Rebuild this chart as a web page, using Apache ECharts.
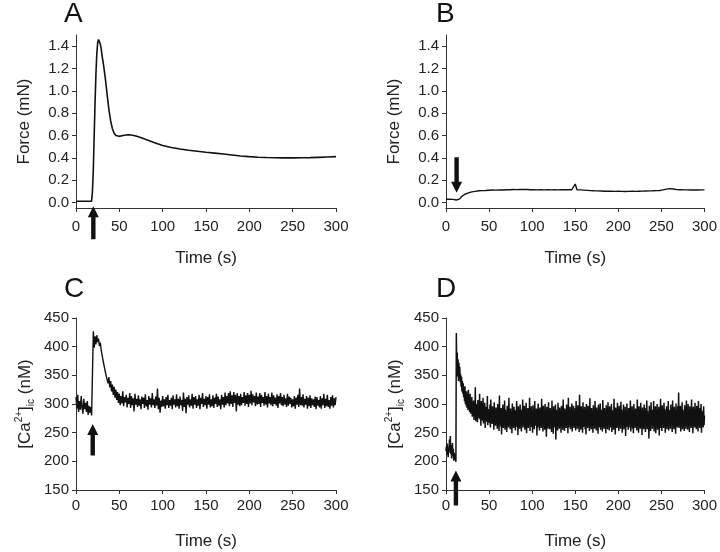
<!DOCTYPE html>
<html>
<head>
<meta charset="utf-8">
<script src="https://cdn.jsdelivr.net/npm/echarts@6/dist/echarts.min.js"></script>
<style>html,body{margin:0;padding:0;background:#fff}#c{width:720px;height:552px}</style>
</head>
<body>
<div id="c"></div>
<script>
// ---- Data ----
var xTicks = [0, 50, 100, 150, 200, 250, 300];
var forceTicks = [0, 0.2, 0.4, 0.6, 0.8, 1.0, 1.2, 1.4];
var caTicks = [150, 200, 250, 300, 350, 400, 450];
var panelLetters = ['A', 'B', 'C', 'D'];

// Panel A: force (mN) vs time (s)
var A_time = [0,5,10,15,18,19,20,21,22,23,24,25,26,27,28,29,30,31,32,34,36,38,40,42,44,46,48,50,53,56,60,64,68,72,76,80,90,100,110,120,130,140,150,160,170,180,190,200,210,220,230,240,250,260,270,280,290,300];
var A_force = [0.01,0.01,0.01,0.01,0.012,0.1,0.3,0.6,0.9,1.15,1.33,1.43,1.46,1.45,1.42,1.38,1.32,1.27,1.22,1.10,0.96,0.83,0.73,0.66,0.62,0.60,0.593,0.592,0.597,0.602,0.606,0.604,0.598,0.588,0.577,0.565,0.537,0.51,0.492,0.478,0.467,0.458,0.449,0.442,0.434,0.425,0.416,0.41,0.405,0.402,0.400,0.399,0.399,0.400,0.401,0.404,0.407,0.41];

// Panel B: force (mN), sampled every 2 s
var B_dt = 2;
var B_force = [0.028,0.027,0.029,0.026,0.027,0.025,0.022,0.018,0.032,0.052,0.064,0.073,0.080,0.085,0.089,0.094,0.096,0.099,0.101,0.104,
0.101,0.106,0.103,0.107,0.105,0.109,0.106,0.111,0.107,0.110,0.108,0.112,0.109,0.111,0.110,0.113,0.110,0.114,0.112,0.116,
0.113,0.115,0.112,0.116,0.113,0.117,0.114,0.116,0.121,0.114,0.117,0.113,0.116,0.112,0.115,0.113,0.117,0.112,0.115,0.113,
0.116,0.112,0.115,0.113,0.116,0.112,0.115,0.113,0.116,0.114,0.117,0.113,0.116,0.114,0.117,0.165,0.113,0.116,0.112,0.114,
0.110,0.112,0.108,0.110,0.106,0.108,0.104,0.106,0.103,0.105,0.102,0.104,0.100,0.103,0.101,0.104,0.100,0.102,0.099,0.102,
0.100,0.103,0.099,0.101,0.098,0.101,0.099,0.102,0.100,0.103,0.099,0.101,0.100,0.103,0.101,0.104,0.102,0.105,0.103,0.106,
0.104,0.107,0.106,0.108,0.107,0.110,0.112,0.116,0.119,0.122,0.124,0.122,0.120,0.117,0.115,0.112,0.114,0.110,0.112,0.109,
0.112,0.108,0.111,0.109,0.112,0.108,0.111,0.109,0.112,0.110,0.112];

// Panel C: [Ca2+]ic (nM), sampled every 1 s
var C_dt = 1;
var C_ca = [312,292,316,286,305,290,314,294,283,309,291,302,286,305,281,297,285,295,280,278,
427,398,418,404,420,408,414,401,407,395,392,378,377,362,363,348,350,336,347,329,
340,322,334,316,330,311,325,307,321,302,318,298,314,301,322,296,312,303,316,294,
311,300,319,293,314,298,310,287,318,299,309,295,315,297,308,291,313,300,311,293,
317,296,307,290,314,299,310,294,319,298,308,293,313,297,327,291,311,285,306,295,
314,296,308,292,312,298,316,293,307,297,311,291,315,299,308,294,317,296,309,292,
313,298,307,288,320,295,309,284,312,299,315,294,308,297,318,292,312,299,314,293,
308,297,316,291,311,300,319,295,309,298,314,292,312,299,317,294,308,296,315,293,
311,300,318,295,313,297,308,291,316,299,312,294,320,298,314,301,319,296,322,300,
315,295,321,302,316,287,319,299,314,296,318,298,312,302,321,297,315,300,319,295,
316,301,323,298,317,303,314,296,320,299,313,300,319,295,316,302,312,297,321,299,
314,294,318,301,312,298,320,296,315,300,311,297,317,293,314,301,319,298,312,296,
316,299,310,295,318,297,313,300,311,294,308,296,314,292,311,299,316,295,327,298,
312,297,317,294,309,299,314,292,311,296,315,293,310,298,308,295,313,291,312,297,
307,294,314,292,310,298,318,293,309,296,316,295,307,292,312,297,315,294,310,298,312];

// Panel D: [Ca2+]ic (nM), sampled every 0.5 s
var D_dt = 0.5;
var D_ca = [218,226,212,231,220,207,224,215,238,221,244,213,228,205,219,232,209,222,201,215,
214,203,208,199,424,362,390,348,378,340,372,345,365,338,352,330,348,322,340,318,
336,312,328,305,331,300,318,296,322,293,314,289,325,292,309,286,318,283,305,295,
312,278,298,285,306,272,295,281,329,270,300,284,292,268,307,279,296,275,318,273,
297,262,305,276,290,271,311,266,288,279,302,258,295,274,287,269,314,263,291,277,
285,267,299,259,308,272,283,265,296,270,289,255,303,268,281,262,294,276,286,257,
300,266,281,253,315,270,288,261,293,247,284,272,299,258,277,266,306,255,290,270,
282,251,297,264,286,259,311,268,279,256,292,263,287,249,301,271,280,258,295,262,
289,254,283,268,305,260,278,246,296,265,285,257,299,270,281,252,290,263,308,259,
284,266,297,255,279,261,302,249,288,270,293,258,281,264,311,253,287,267,296,260,
283,250,298,268,285,256,305,262,280,271,292,245,289,259,301,266,278,254,294,263,
286,258,309,264,282,252,297,269,287,255,300,261,279,243,295,267,284,257,303,262,
280,256,293,270,288,251,306,260,283,248,296,265,281,259,299,238,290,263,285,254,
302,266,279,257,294,261,288,250,297,268,283,255,308,262,286,253,292,265,280,258,
299,264,287,249,311,259,283,267,295,256,289,262,301,252,285,270,297,258,282,263,
293,254,305,266,284,257,298,261,288,251,316,264,282,255,296,268,286,250,303,260,
281,262,295,256,290,247,300,267,284,258,297,263,279,253,310,261,287,256,293,265,
283,250,298,262,289,257,305,266,281,254,294,260,287,248,299,264,284,259,301,255,
290,263,282,252,307,260,286,257,293,266,280,249,298,261,288,256,303,263,283,254,
296,259,285,267,300,251,289,262,282,255,309,264,287,247,294,261,280,258,302,265,
286,253,297,262,283,257,304,266,290,250,285,263,299,256,281,261,295,244,288,260,
301,264,284,255,293,259,287,268,306,252,282,263,296,257,289,249,300,265,284,258,
292,261,283,254,308,263,287,250,296,266,280,257,302,262,289,246,294,260,285,256,
299,265,282,251,293,262,306,256,288,264,281,240,297,259,286,253,303,266,284,257,
290,263,305,252,287,261,296,249,283,267,300,255,289,262,295,245,284,264,309,258,
286,253,298,266,283,258,302,261,291,250,287,264,296,256,282,262,305,254,290,267,
284,257,299,263,288,251,306,265,283,256,295,261,289,248,301,266,285,259,296,262,
320,258,287,264,297,252,284,267,303,256,290,261,282,253,298,266,288,257,306,262,
285,255,300,264,289,251,296,263,284,258,308,262,287,249,295,266,283,259,302,261,
289,256,297,265,284,252,305,263,286,258,293,261,300,250,288,267,284,259,296,263,280];

// Stimulus arrows: [time, tail value, tip value]
var arrowA = [20, -0.33, -0.035];
var arrowB = [12.3, 0.405, 0.087];
var arrowC = [19.3, 210, 265];
var arrowD = [11.5, 123, 184];

// ---- Build ----
function pairs(t, v) { return v.map(function (y, i) { return [t[i], y]; }); }
function sampled(dt, v) { return v.map(function (y, i) { return [i * dt, y]; }); }

var FONT = 'Liberation Sans, Arial, sans-serif';
var INK = '#111';
var AXIS = '#333';

var grids = [
  { left: 76, right: 384, top: 35, bottom: 344 },
  { left: 446, right: 14, top: 35, bottom: 344 },
  { left: 76, right: 384, top: 318, bottom: 62 },
  { left: 446, right: 14, top: 318, bottom: 62 }
];

function xAxisFor(i, margin, gap) {
  return {
    type: 'value', gridIndex: i, min: 0, max: 300, interval: 50,
    name: 'Time (s)', nameLocation: 'middle', nameGap: gap,
    nameTextStyle: { fontFamily: FONT, fontSize: 17, color: '#222' },
    axisLine: { onZero: false, lineStyle: { color: AXIS, width: 1 } },
    axisTick: { show: true, inside: false, length: 4, lineStyle: { color: AXIS } },
    axisLabel: { fontFamily: FONT, fontSize: 15, color: '#222', margin: margin },
    splitLine: { show: false }
  };
}

var caName = '[Ca{sup|2+}]{sub|ic} (nM)';
var caRich = {
  sup: { fontFamily: FONT, fontSize: 10, color: '#222', verticalAlign: 'top', lineHeight: 10 },
  sub: { fontFamily: FONT, fontSize: 10, color: '#222', verticalAlign: 'bottom', lineHeight: 10 }
};

function yForce(i) {
  return {
    type: 'value', gridIndex: i, min: -0.05, max: 1.5,
    name: 'Force (mN)', nameLocation: 'middle', nameGap: 43,
    nameTextStyle: { fontFamily: FONT, fontSize: 17, color: '#222' },
    axisLine: { show: true, onZero: false, lineStyle: { color: AXIS, width: 1 } },
    axisTick: { show: true, length: 4, customValues: forceTicks, lineStyle: { color: AXIS } },
    axisLabel: { fontFamily: FONT, fontSize: 15, color: '#222', margin: 7, customValues: forceTicks,
      formatter: function (v) { return v.toFixed(1); } },
    splitLine: { show: false }
  };
}

function yCa(i) {
  return {
    type: 'value', gridIndex: i, min: 150, max: 450, interval: 50,
    name: caName, nameLocation: 'middle', nameGap: 40,
    nameTextStyle: { fontFamily: FONT, fontSize: 17, color: '#222', lineHeight: 22, rich: caRich },
    axisLine: { show: true, onZero: false, lineStyle: { color: AXIS, width: 1 } },
    axisTick: { show: true, length: 4, lineStyle: { color: AXIS } },
    axisLabel: { fontFamily: FONT, fontSize: 15, color: '#222', margin: 7 },
    splitLine: { show: false }
  };
}

function traceSeries(i, data, width) {
  return {
    type: 'line', xAxisIndex: i, yAxisIndex: i, data: data,
    showSymbol: false, symbol: 'none', silent: true, sampling: null,
    lineStyle: { color: INK, width: width }
  };
}

function arrowSeries(i, arr) {
  return {
    type: 'custom', xAxisIndex: i, yAxisIndex: i, clip: false, silent: true,
    data: [arr],
    encode: { x: 0, y: [1, 2] },
    renderItem: function (params, api) {
      var p0 = api.coord([api.value(0), api.value(1)]);
      var p1 = api.coord([api.value(0), api.value(2)]);
      var dir = p1[1] > p0[1] ? 1 : -1;
      var hl = 11, hw = 5.5, sw = 2.2;
      var by = p1[1] - dir * hl;
      var x = p0[0];
      return {
        type: 'polygon',
        shape: { points: [[x - sw, p0[1]], [x - sw, by], [x - hw, by], [p1[0], p1[1]], [x + hw, by], [x + sw, by], [x + sw, p0[1]]] },
        style: { fill: INK }
      };
    }
  };
}

var titlePos = [[64, 0], [436, 0], [64, 275], [436, 275]];

var option = {
  animation: false,
  backgroundColor: '#fff',
  title: panelLetters.map(function (L, i) {
    return { text: L, left: titlePos[i][0], top: titlePos[i][1], padding: 0,
      textStyle: { fontFamily: FONT, fontSize: 28, fontWeight: 'normal', color: INK } };
  }),
  grid: grids,
  xAxis: [xAxisFor(0, 11, 42), xAxisFor(1, 11, 42), xAxisFor(2, 8, 43), xAxisFor(3, 8, 43)],
  yAxis: [yForce(0), yForce(1), yCa(2), yCa(3)],
  series: [
    traceSeries(0, pairs(A_time, A_force), 1.6),
    traceSeries(1, sampled(B_dt, B_force), 1.4),
    traceSeries(2, sampled(C_dt, C_ca), 1.4),
    traceSeries(3, sampled(D_dt, D_ca), 1.5),
    arrowSeries(0, arrowA),
    arrowSeries(1, arrowB),
    arrowSeries(2, arrowC),
    arrowSeries(3, arrowD)
  ]
};

var chart = echarts.init(document.getElementById('c'), null, { renderer: 'canvas' });
chart.setOption(option);
</script>
</body>
</html>
